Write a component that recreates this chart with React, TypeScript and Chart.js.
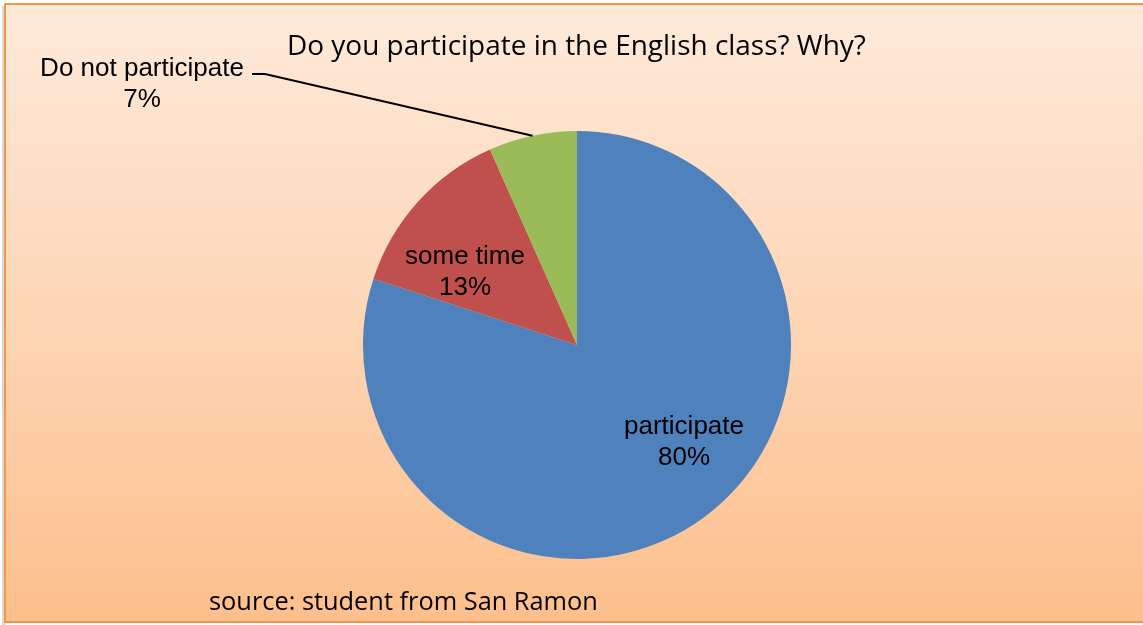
import React, { useEffect, useRef } from "react";
import { Chart, registerables } from "chart.js";

Chart.register(...registerables);

const categories = ["participate", "some time", "Do not participate"];
const counts = [12, 2, 1];
const colors = ["#4F81BD", "#C0504D", "#9BBB59"];
const titleText = "Do you participate in the English class? Why?";
const sourceText = "source: student from San Ramon";

// label anchor positions (first-line baseline, centered)
const labelAnchors = [
  [684, 434],
  [465, 264],
  [142, 76],
];

function fitFont(ctx: CanvasRenderingContext2D, text: string, family: string, width: number) {
  ctx.font = `100px ${family}`;
  const w = ctx.measureText(text).width;
  return (100 * width) / w;
}

const decorPlugin = {
  id: "decor",
  beforeDraw(chart: any) {
    const ctx = chart.ctx as CanvasRenderingContext2D;
    const W = chart.width;
    const H = chart.height;
    ctx.save();
    ctx.fillStyle = "#ffffff";
    ctx.fillRect(0, 0, W, H);
    ctx.fillStyle = "#d9d9d9";
    ctx.fillRect(2, 6, 3, H - 6);
    const g = ctx.createLinearGradient(0, 5, 0, 622);
    g.addColorStop(0, "#FEEADA");
    g.addColorStop(0.5, "#FDD6B6");
    g.addColorStop(1, "#FDBF8C");
    ctx.fillStyle = g;
    ctx.fillRect(5, 4, W, 618);
    ctx.strokeStyle = "#F79646";
    ctx.lineWidth = 2;
    ctx.strokeRect(5, 4, W + 5, 618);
    ctx.restore();
  },
  afterDraw(chart: any) {
    const ctx = chart.ctx as CanvasRenderingContext2D;
    ctx.save();
    const tf = "'Open Sans'";
    const ts = fitFont(ctx, titleText, tf, 579);
    ctx.font = `${ts}px ${tf}`;
    ctx.fillStyle = "#000";
    ctx.textAlign = "left";
    ctx.textBaseline = "alphabetic";
    ctx.fillText(titleText, 287, 55);
    const ss = fitFont(ctx, sourceText, tf, 389);
    ctx.font = `${ss}px ${tf}`;
    ctx.fillText(sourceText, 209, 610);

    const total = counts.reduce((a, b) => a + b, 0);
    const meta = chart.getDatasetMeta(0);
    ctx.font = "26px 'Liberation Sans'";
    ctx.textAlign = "center";
    meta.data.forEach((arc: any, i: number) => {
      const { x, y, startAngle, endAngle, outerRadius } = arc.getProps(
        ["x", "y", "startAngle", "endAngle", "outerRadius"],
        true
      );
      const mid = (startAngle + endAngle) / 2;
      const pct = Math.round((counts[i] / total) * 100) + "%";
      const [lx, ly] = labelAnchors[i];
      if (i === 2) {
        const ex = x + Math.cos(mid) * outerRadius;
        const ey = y + Math.sin(mid) * outerRadius;
        ctx.strokeStyle = "#000";
        ctx.lineWidth = 2;
        ctx.beginPath();
        ctx.moveTo(ex, ey);
        ctx.lineTo(265, 74);
        ctx.lineTo(252, 74);
        ctx.stroke();
      }
      ctx.fillText(categories[i], lx, ly);
      ctx.fillText(pct, lx, ly + 31);
    });
    ctx.restore();
  },
};

export default function App() {
  const ref = useRef<HTMLCanvasElement | null>(null);
  useEffect(() => {
    if (!ref.current) return;
    const chart = new Chart(ref.current, {
      type: "pie",
      data: {
        labels: categories,
        datasets: [
          {
            data: counts,
            backgroundColor: colors,
            borderWidth: 0,
          },
        ],
      },
      options: {
        responsive: false,
        animation: false,
        layout: { padding: { left: 363, right: 352, top: 131, bottom: 66 } },
        plugins: {
          legend: { display: false },
          title: { display: false },
          tooltip: { enabled: false },
        },
      },
      plugins: [decorPlugin],
    });
    return () => chart.destroy();
  }, []);
  return (
    <div style={{ position: "fixed", left: 0, top: 0, width: 1143, height: 625 }}>
      <canvas ref={ref} width={1143} height={625} style={{ width: 1143, height: 625 }} />
    </div>
  );
}
